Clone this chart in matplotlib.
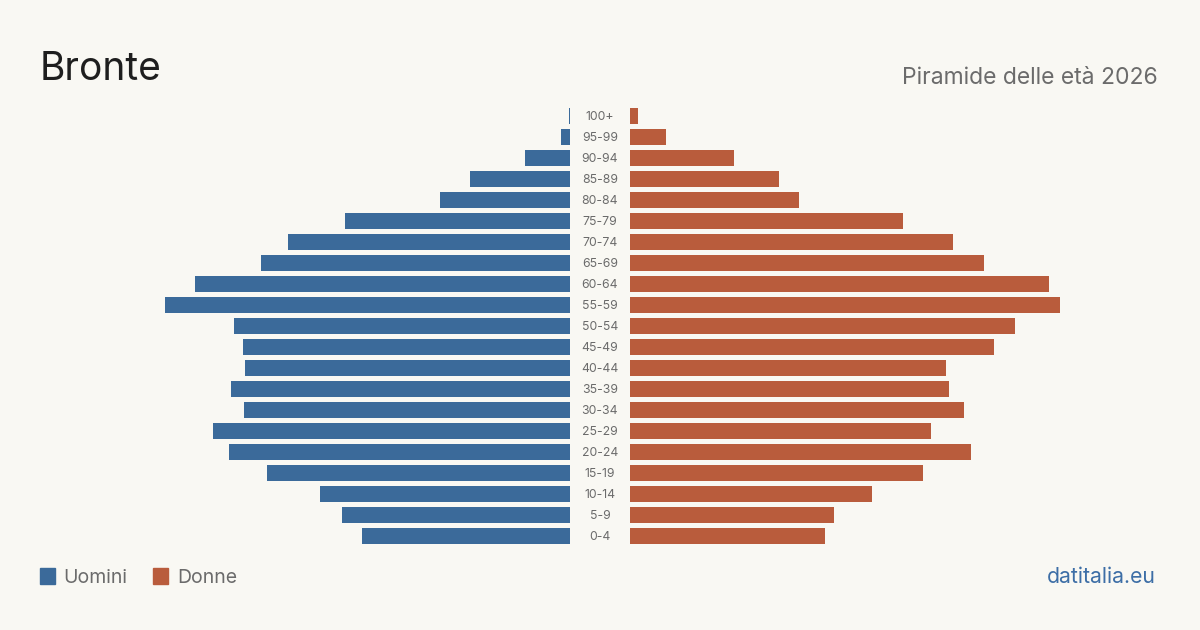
import matplotlib.pyplot as plt

plt.rcParams['font.family'] = ['Inter', 'DejaVu Sans']

BG = "#f9f8f3"
BLUE = "#3b6a9a"
ORANGE = "#b95c3c"
GREY = "#6b6b6b"

# age groups, youngest first (bottom of the pyramid)
age_groups = ["0-4", "5-9", "10-14", "15-19", "20-24", "25-29", "30-34", "35-39",
              "40-44", "45-49", "50-54", "55-59", "60-64", "65-69", "70-74",
              "75-79", "80-84", "85-89", "90-94", "95-99", "100+"]
# values (relative units)
men = [208, 228, 250, 303, 341, 357, 326, 339, 325, 327, 336, 405, 375, 309,
       282, 225, 130, 100, 45, 9, 1]
women = [195, 204, 242, 293, 341, 301, 334, 319, 316, 364, 385, 430, 419, 354,
         323, 273, 169, 149, 104, 36, 8]

W, H = 1200, 630
fig = plt.figure(figsize=(12, 6.3), dpi=100)
fig.patch.set_facecolor(BG)

top, bottom = 105.5, 546.5
xmax = 530
ax_l = fig.add_axes([40 / W, 1 - bottom / H, 530 / W, (bottom - top) / H])
ax_r = fig.add_axes([630 / W, 1 - bottom / H, 530 / W, (bottom - top) / H])

ypos = list(range(len(age_groups)))
ax_l.barh(ypos, men, height=0.8, color=BLUE)
ax_r.barh(ypos, women, height=0.8, color=ORANGE)
ax_l.set_xlim(xmax, 0)
ax_r.set_xlim(0, xmax)
for ax in (ax_l, ax_r):
    ax.set_ylim(-0.5, len(age_groups) - 0.5)
    ax.axis('off')

for i, lab in enumerate(age_groups):
    y = 1 - (bottom + 1 - (i + 0.5) * 21) / H
    fig.text(600 / W, y, lab, ha='center', va='center', fontsize=8.8, color=GREY)

fig.text(40 / W, 1 - 80 / H, "Bronte", fontsize=28, color="#1e1e1e",
         ha='left', va='baseline')
fig.text(1158 / W, 1 - 84 / H, "Piramide delle età 2026", fontsize=16.5,
         color=GREY, ha='right', va='baseline')

# legend
fig.patches.append(plt.Rectangle((40 / W, 1 - 584 / H), 15 / W, 16 / H,
                                 transform=fig.transFigure, color=BLUE))
fig.text(63 / W, 1 - 583 / H, "Uomini", fontsize=14, color=GREY, va='baseline')
fig.patches.append(plt.Rectangle((153 / W, 1 - 584 / H), 15 / W, 16 / H,
                                 transform=fig.transFigure, color=ORANGE))
fig.text(177 / W, 1 - 583 / H, "Donne", fontsize=14, color=GREY, va='baseline')

fig.text(1156 / W, 1 - 583 / H, "datitalia.eu", fontsize=15.3, color="#3d6ea6",
         ha='right', va='baseline')

fig.savefig("out.png", dpi=100, facecolor=BG)
